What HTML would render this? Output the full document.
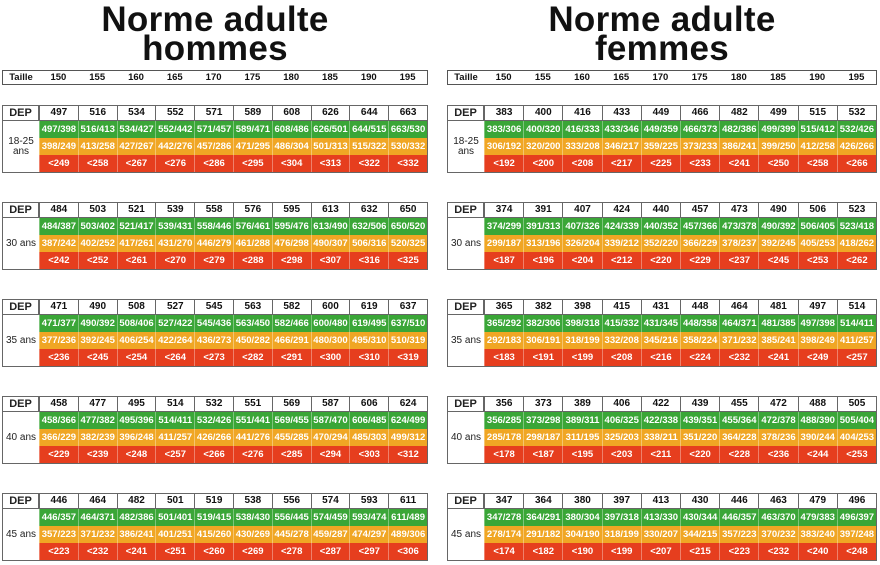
<!DOCTYPE html>
<html><head><meta charset="utf-8"><style>
body{margin:0;width:880px;height:565px;background:#fff;position:relative;overflow:hidden;font-family:"Liberation Sans",sans-serif;}
.t{position:absolute;text-align:center;font-weight:bold;font-size:35px;line-height:29px;color:#111;letter-spacing:0.3px}
.tail{position:absolute;height:15px;border:1px solid #555;box-sizing:border-box;display:flex;font-size:9.5px;font-weight:bold;align-items:center;color:#111}
.tail span{flex:1;text-align:center}
.tail span.l{flex:0 0 36px}
.blk{position:absolute;width:426px;height:68px;border:1px solid #666;box-sizing:border-box}
.lab{position:absolute;left:0;top:0;width:36px;height:100%;font-size:10px;color:#222;}
.lab .d{height:15px;border-bottom:1px solid #666;border-right:1px solid #666;box-sizing:border-box;font-weight:bold;font-size:11px;text-align:center;line-height:14px}
.lab .a{text-align:center;line-height:10px;padding-top:16px}
.rows{position:absolute;left:36px;top:0;right:0;bottom:0}
.r{display:flex;box-sizing:border-box}
.r span{flex:1;text-align:center;font-weight:bold;font-size:9.5px;color:#fff}
.r0{height:15px;border-bottom:1px solid #666}
.r0 span{color:#111;border-left:1px solid #666;line-height:14px;font-size:10px}
.g{height:17px;background:#3aa637;line-height:17px}
.o{height:17px;background:#f0a624;line-height:17px}
.rd{height:17px;background:#e63e1e;line-height:17px}
.g span,.o span,.rd span{border-left:1px solid rgba(255,255,255,0.35);font-size:9.5px}
</style></head><body>
<div class="t" style="left:0;width:430px;top:5px">Norme adulte<br>hommes</div>
<div class="t" style="left:447px;width:430px;top:5px">Norme adulte<br>femmes</div>

<div class="tail" style="left:2px;top:70px;width:426px"><span class="l">Taille</span><span>150</span><span>155</span><span>160</span><span>165</span><span>170</span><span>175</span><span>180</span><span>185</span><span>190</span><span>195</span></div>
<div class="tail" style="left:447px;top:70px;width:430px"><span class="l">Taille</span><span>150</span><span>155</span><span>160</span><span>165</span><span>170</span><span>175</span><span>180</span><span>185</span><span>190</span><span>195</span></div>

<div class="blk" style="left:2px;top:105px"><div class="lab"><div class="d">DEP</div><div class="a">18-25<br>ans</div></div><div class="rows">
<div class="r r0"><span>497</span><span>516</span><span>534</span><span>552</span><span>571</span><span>589</span><span>608</span><span>626</span><span>644</span><span>663</span></div>
<div class="r g"><span>497/398</span><span>516/413</span><span>534/427</span><span>552/442</span><span>571/457</span><span>589/471</span><span>608/486</span><span>626/501</span><span>644/515</span><span>663/530</span></div>
<div class="r o"><span>398/249</span><span>413/258</span><span>427/267</span><span>442/276</span><span>457/286</span><span>471/295</span><span>486/304</span><span>501/313</span><span>515/322</span><span>530/332</span></div>
<div class="r rd"><span>&lt;249</span><span>&lt;258</span><span>&lt;267</span><span>&lt;276</span><span>&lt;286</span><span>&lt;295</span><span>&lt;304</span><span>&lt;313</span><span>&lt;322</span><span>&lt;332</span></div></div></div>

<div class="blk" style="left:2px;top:202px"><div class="lab"><div class="d">DEP</div><div class="a" style="padding-top:21px">30 ans</div></div><div class="rows">
<div class="r r0"><span>484</span><span>503</span><span>521</span><span>539</span><span>558</span><span>576</span><span>595</span><span>613</span><span>632</span><span>650</span></div>
<div class="r g"><span>484/387</span><span>503/402</span><span>521/417</span><span>539/431</span><span>558/446</span><span>576/461</span><span>595/476</span><span>613/490</span><span>632/506</span><span>650/520</span></div>
<div class="r o"><span>387/242</span><span>402/252</span><span>417/261</span><span>431/270</span><span>446/279</span><span>461/288</span><span>476/298</span><span>490/307</span><span>506/316</span><span>520/325</span></div>
<div class="r rd"><span>&lt;242</span><span>&lt;252</span><span>&lt;261</span><span>&lt;270</span><span>&lt;279</span><span>&lt;288</span><span>&lt;298</span><span>&lt;307</span><span>&lt;316</span><span>&lt;325</span></div></div></div>

<div class="blk" style="left:2px;top:299px"><div class="lab"><div class="d">DEP</div><div class="a" style="padding-top:21px">35 ans</div></div><div class="rows">
<div class="r r0"><span>471</span><span>490</span><span>508</span><span>527</span><span>545</span><span>563</span><span>582</span><span>600</span><span>619</span><span>637</span></div>
<div class="r g"><span>471/377</span><span>490/392</span><span>508/406</span><span>527/422</span><span>545/436</span><span>563/450</span><span>582/466</span><span>600/480</span><span>619/495</span><span>637/510</span></div>
<div class="r o"><span>377/236</span><span>392/245</span><span>406/254</span><span>422/264</span><span>436/273</span><span>450/282</span><span>466/291</span><span>480/300</span><span>495/310</span><span>510/319</span></div>
<div class="r rd"><span>&lt;236</span><span>&lt;245</span><span>&lt;254</span><span>&lt;264</span><span>&lt;273</span><span>&lt;282</span><span>&lt;291</span><span>&lt;300</span><span>&lt;310</span><span>&lt;319</span></div></div></div>

<div class="blk" style="left:2px;top:396px"><div class="lab"><div class="d">DEP</div><div class="a" style="padding-top:21px">40 ans</div></div><div class="rows">
<div class="r r0"><span>458</span><span>477</span><span>495</span><span>514</span><span>532</span><span>551</span><span>569</span><span>587</span><span>606</span><span>624</span></div>
<div class="r g"><span>458/366</span><span>477/382</span><span>495/396</span><span>514/411</span><span>532/426</span><span>551/441</span><span>569/455</span><span>587/470</span><span>606/485</span><span>624/499</span></div>
<div class="r o"><span>366/229</span><span>382/239</span><span>396/248</span><span>411/257</span><span>426/266</span><span>441/276</span><span>455/285</span><span>470/294</span><span>485/303</span><span>499/312</span></div>
<div class="r rd"><span>&lt;229</span><span>&lt;239</span><span>&lt;248</span><span>&lt;257</span><span>&lt;266</span><span>&lt;276</span><span>&lt;285</span><span>&lt;294</span><span>&lt;303</span><span>&lt;312</span></div></div></div>

<div class="blk" style="left:2px;top:493px"><div class="lab"><div class="d">DEP</div><div class="a" style="padding-top:21px">45 ans</div></div><div class="rows">
<div class="r r0"><span>446</span><span>464</span><span>482</span><span>501</span><span>519</span><span>538</span><span>556</span><span>574</span><span>593</span><span>611</span></div>
<div class="r g"><span>446/357</span><span>464/371</span><span>482/386</span><span>501/401</span><span>519/415</span><span>538/430</span><span>556/445</span><span>574/459</span><span>593/474</span><span>611/489</span></div>
<div class="r o"><span>357/223</span><span>371/232</span><span>386/241</span><span>401/251</span><span>415/260</span><span>430/269</span><span>445/278</span><span>459/287</span><span>474/297</span><span>489/306</span></div>
<div class="r rd"><span>&lt;223</span><span>&lt;232</span><span>&lt;241</span><span>&lt;251</span><span>&lt;260</span><span>&lt;269</span><span>&lt;278</span><span>&lt;287</span><span>&lt;297</span><span>&lt;306</span></div></div></div>

<div class="blk" style="left:447px;top:105px;width:430px"><div class="lab"><div class="d">DEP</div><div class="a">18-25<br>ans</div></div><div class="rows">
<div class="r r0"><span>383</span><span>400</span><span>416</span><span>433</span><span>449</span><span>466</span><span>482</span><span>499</span><span>515</span><span>532</span></div>
<div class="r g"><span>383/306</span><span>400/320</span><span>416/333</span><span>433/346</span><span>449/359</span><span>466/373</span><span>482/386</span><span>499/399</span><span>515/412</span><span>532/426</span></div>
<div class="r o"><span>306/192</span><span>320/200</span><span>333/208</span><span>346/217</span><span>359/225</span><span>373/233</span><span>386/241</span><span>399/250</span><span>412/258</span><span>426/266</span></div>
<div class="r rd"><span>&lt;192</span><span>&lt;200</span><span>&lt;208</span><span>&lt;217</span><span>&lt;225</span><span>&lt;233</span><span>&lt;241</span><span>&lt;250</span><span>&lt;258</span><span>&lt;266</span></div></div></div>

<div class="blk" style="left:447px;top:202px;width:430px"><div class="lab"><div class="d">DEP</div><div class="a" style="padding-top:21px">30 ans</div></div><div class="rows">
<div class="r r0"><span>374</span><span>391</span><span>407</span><span>424</span><span>440</span><span>457</span><span>473</span><span>490</span><span>506</span><span>523</span></div>
<div class="r g"><span>374/299</span><span>391/313</span><span>407/326</span><span>424/339</span><span>440/352</span><span>457/366</span><span>473/378</span><span>490/392</span><span>506/405</span><span>523/418</span></div>
<div class="r o"><span>299/187</span><span>313/196</span><span>326/204</span><span>339/212</span><span>352/220</span><span>366/229</span><span>378/237</span><span>392/245</span><span>405/253</span><span>418/262</span></div>
<div class="r rd"><span>&lt;187</span><span>&lt;196</span><span>&lt;204</span><span>&lt;212</span><span>&lt;220</span><span>&lt;229</span><span>&lt;237</span><span>&lt;245</span><span>&lt;253</span><span>&lt;262</span></div></div></div>

<div class="blk" style="left:447px;top:299px;width:430px"><div class="lab"><div class="d">DEP</div><div class="a" style="padding-top:21px">35 ans</div></div><div class="rows">
<div class="r r0"><span>365</span><span>382</span><span>398</span><span>415</span><span>431</span><span>448</span><span>464</span><span>481</span><span>497</span><span>514</span></div>
<div class="r g"><span>365/292</span><span>382/306</span><span>398/318</span><span>415/332</span><span>431/345</span><span>448/358</span><span>464/371</span><span>481/385</span><span>497/398</span><span>514/411</span></div>
<div class="r o"><span>292/183</span><span>306/191</span><span>318/199</span><span>332/208</span><span>345/216</span><span>358/224</span><span>371/232</span><span>385/241</span><span>398/249</span><span>411/257</span></div>
<div class="r rd"><span>&lt;183</span><span>&lt;191</span><span>&lt;199</span><span>&lt;208</span><span>&lt;216</span><span>&lt;224</span><span>&lt;232</span><span>&lt;241</span><span>&lt;249</span><span>&lt;257</span></div></div></div>

<div class="blk" style="left:447px;top:396px;width:430px"><div class="lab"><div class="d">DEP</div><div class="a" style="padding-top:21px">40 ans</div></div><div class="rows">
<div class="r r0"><span>356</span><span>373</span><span>389</span><span>406</span><span>422</span><span>439</span><span>455</span><span>472</span><span>488</span><span>505</span></div>
<div class="r g"><span>356/285</span><span>373/298</span><span>389/311</span><span>406/325</span><span>422/338</span><span>439/351</span><span>455/364</span><span>472/378</span><span>488/390</span><span>505/404</span></div>
<div class="r o"><span>285/178</span><span>298/187</span><span>311/195</span><span>325/203</span><span>338/211</span><span>351/220</span><span>364/228</span><span>378/236</span><span>390/244</span><span>404/253</span></div>
<div class="r rd"><span>&lt;178</span><span>&lt;187</span><span>&lt;195</span><span>&lt;203</span><span>&lt;211</span><span>&lt;220</span><span>&lt;228</span><span>&lt;236</span><span>&lt;244</span><span>&lt;253</span></div></div></div>

<div class="blk" style="left:447px;top:493px;width:430px"><div class="lab"><div class="d">DEP</div><div class="a" style="padding-top:21px">45 ans</div></div><div class="rows">
<div class="r r0"><span>347</span><span>364</span><span>380</span><span>397</span><span>413</span><span>430</span><span>446</span><span>463</span><span>479</span><span>496</span></div>
<div class="r g"><span>347/278</span><span>364/291</span><span>380/304</span><span>397/318</span><span>413/330</span><span>430/344</span><span>446/357</span><span>463/370</span><span>479/383</span><span>496/397</span></div>
<div class="r o"><span>278/174</span><span>291/182</span><span>304/190</span><span>318/199</span><span>330/207</span><span>344/215</span><span>357/223</span><span>370/232</span><span>383/240</span><span>397/248</span></div>
<div class="r rd"><span>&lt;174</span><span>&lt;182</span><span>&lt;190</span><span>&lt;199</span><span>&lt;207</span><span>&lt;215</span><span>&lt;223</span><span>&lt;232</span><span>&lt;240</span><span>&lt;248</span></div></div></div>
</body></html>
